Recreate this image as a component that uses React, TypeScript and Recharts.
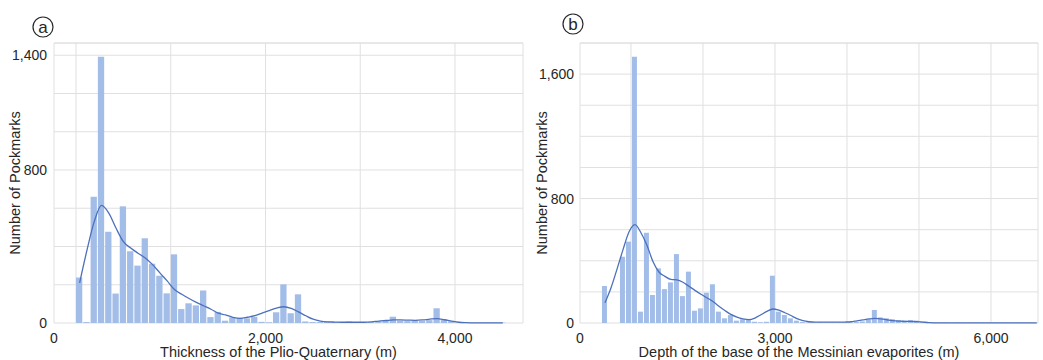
import {
  ComposedChart,
  Bar,
  Line,
  XAxis,
  YAxis,
  CartesianGrid,
  ReferenceLine,
  Label,
} from "recharts";

const FONT = "'Liberation Sans', Arial, Helvetica, sans-serif";
const GRID = "#e0e0e0";
const BAR = "#a3bde9";
const LINE = "#4d70bb";
const INK = "#262626";

// (a) thickness of the Plio-Quaternary, 77 m bins starting at 0 m
const BIN_START_A = 0;
const BIN_WIDTH_A = 77;
const COUNTS_A = [
  238, 5, 660, 1392, 477, 154, 610, 375, 300, 443, 310, 247, 155, 359, 73, 103,
  92, 170, 31, 58, 12, 30, 27, 24, 33, 6, 4, 56, 202, 51, 150, 8, 5, 5, 7, 5, 4,
  8, 5, 4, 5, 9, 14, 33, 12, 10, 14, 11, 15, 77, 18, 9, 4, 3, 2, 2, 2, 2, 2,
];
const KDE_A = [
  210, 380, 530, 615, 575, 495, 425, 392, 365, 340, 305, 262, 220, 175, 150,
  128, 108, 90, 72, 52, 42, 30, 24, 30, 38, 52, 65, 78, 85, 76, 58, 38, 20, 10,
  6, 5, 4, 4, 4, 4, 6, 10, 13, 16, 16, 15, 14, 16, 20, 23, 17, 10, 4, 2, 1, 1, 1,
  1, 1,
];
const X_DOMAIN_A: [number, number] = [-232, 4718];
const X_TICKS_A = [0, 1000, 2000, 3000, 4000];
const X_LABELS_A = [0, 2000, 4000];
const Y_DOMAIN_A: [number, number] = [0, 1464];
const Y_TICKS_A = [0, 200, 400, 600, 800, 1000, 1200, 1400];
const Y_LABELS_A = [0, 800, 1400];

// (b) depth of the base of the Messinian evaporites, 83.3 m bins from 597 m
const BIN_START_B = 597;
const BIN_WIDTH_B = 83.3;
const COUNTS_B = [
  238, 0, 0, 426, 523, 1711, 73, 580, 180, 351, 218, 261, 443, 173, 330, 79, 94,
  195, 249, 73, 30, 51, 15, 24, 22, 8, 5, 8, 304, 73, 51, 30, 15, 6, 4, 3, 3, 2,
  3, 2, 3, 4, 6, 10, 24, 84, 36, 30, 24, 19, 15, 19, 15, 8, 4, 3, 2, 2, 1, 2, 1,
  1, 2, 1, 1, 1, 1, 1, 1, 1, 1, 1, 1,
];
const KDE_B = [
  130, 225, 345, 470, 585, 632, 580, 500, 395, 328, 300, 280, 277, 262, 236,
  210, 185, 162, 138, 108, 80, 55, 38, 27, 22, 32, 53, 75, 90, 82, 66, 48, 28,
  15, 8, 5, 5, 5, 5, 5, 6, 8, 14, 20, 26, 30, 27, 21, 15, 12, 11, 10, 9, 6, 3, 1,
  1, 1, 1, 1, 1, 1, 1, 1, 1, 1, 1, 1, 1, 1, 1, 1, 1,
];
const X_DOMAIN_B: [number, number] = [292, 6653];
const X_TICKS_B = [1000, 2000, 3000, 4000, 5000, 6000];
const X_LABELS_B = [0, 3000, 6000];
const Y_DOMAIN_B: [number, number] = [0, 1800];
const Y_TICKS_B = [0, 200, 400, 600, 800, 1000, 1200, 1400, 1600, 1800];
const Y_LABELS_B = [0, 800, 1600];

const Y_TITLE = "Number of Pockmarks";
const X_TITLE_A = "Thickness of the Plio-Quaternary (m)";
const X_TITLE_B = "Depth of the base of the Messinian evaporites (m)";

const fmt = (v: number) => v.toLocaleString("en-US");

// the "0" label sits on the left edge of the plot, as in the source figure
function xTick(labels: number[], zeroX: number) {
  return (props: any) => {
    const { x, y, payload, index } = props;
    const v = payload.value as number;
    const style = { fontSize: 14, fill: INK };
    return (
      <g>
        {index === 0 && labels.includes(0) && (
          <text x={zeroX} y={y} dy="0.71em" textAnchor="middle" style={style}>
            0
          </text>
        )}
        {v !== 0 && labels.includes(v) && (
          <text x={x} y={y} dy="0.71em" textAnchor="middle" style={style}>
            {fmt(v)}
          </text>
        )}
      </g>
    );
  };
}

interface PanelProps {
  width: number;
  marginRight: number;
  yAxisWidth: number;
  yTickGap: number;
  yTitleX: number;
  yTitleShift: number;
  binStart: number;
  binWidth: number;
  barSize: number;
  counts: number[];
  kde: number[];
  xDomain: [number, number];
  xTicks: number[];
  xLabels: number[];
  yDomain: [number, number];
  yTicks: number[];
  yLabels: number[];
  xTitle: string;
}

function Histogram(p: PanelProps) {
  const rows = p.counts.map((count, i) => ({
    x: p.binStart + p.binWidth * (i + 0.5),
    count,
    kde: p.kde[i],
  }));

  return (
    <ComposedChart
      width={p.width}
      height={360}
      data={rows}
      margin={{ top: 43, right: p.marginRight, bottom: 0, left: 0 }}
    >
      <CartesianGrid stroke={GRID} />
      <ReferenceLine y={p.yDomain[1]} stroke={GRID} />
      <XAxis
        type="number"
        dataKey="x"
        domain={p.xDomain}
        allowDataOverflow
        ticks={p.xTicks}
        interval={0}
        height={37}
        axisLine={false}
        tickLine={false}
        tickSize={6}
        tickMargin={4}
        tick={xTick(p.xLabels, p.yAxisWidth)}
      >
        <Label
          value={p.xTitle}
          position="insideBottom"
          offset={3}
          dx={-10}
          style={{ fontSize: 14.5, fill: INK }}
        />
      </XAxis>
      <YAxis
        type="number"
        domain={p.yDomain}
        ticks={p.yTicks}
        interval={0}
        width={p.yAxisWidth}
        axisLine={false}
        tickLine={false}
        tickSize={p.yTickGap}
        tickMargin={2}
        tick={{ fontSize: 14, fill: INK }}
        tickFormatter={(v: number) => (p.yLabels.includes(v) ? fmt(v) : "")}
      >
        <Label
          value={Y_TITLE}
          angle={-90}
          position="insideLeft"
          offset={p.yTitleX}
          dx={p.yTitleShift}
          style={{ fontSize: 14.5, fill: INK, textAnchor: "middle" }}
        />
      </YAxis>
      <Bar dataKey="count" fill={BAR} barSize={p.barSize} isAnimationActive={false} />
      <Line
        dataKey="kde"
        type="monotone"
        stroke={LINE}
        strokeWidth={1.3}
        dot={false}
        activeDot={false}
        isAnimationActive={false}
      />
    </ComposedChart>
  );
}

function PanelTag({ x, y, letter }: { x: number; y: number; letter: string }) {
  return (
    <g>
      <circle cx={x} cy={y} r={10} fill="none" stroke={INK} strokeWidth={1.2} />
      <text x={x} y={y} dy="0.36em" textAnchor="middle" style={{ fontSize: 17, fill: INK }}>
        {letter}
      </text>
    </g>
  );
}

export default function App() {
  return (
    <div
      style={{
        position: "absolute",
        left: 0,
        top: 0,
        width: 1043,
        height: 360,
        background: "#fff",
        fontFamily: FONT,
      }}
    >
      <div style={{ position: "absolute", left: 0, top: 0 }}>
        <Histogram
          width={530}
          marginRight={7}
          yAxisWidth={54}
          yTickGap={5}
          yTitleX={10}
          yTitleShift={5}
          binStart={BIN_START_A}
          binWidth={BIN_WIDTH_A}
          barSize={6.3}
          counts={COUNTS_A}
          kde={KDE_A}
          xDomain={X_DOMAIN_A}
          xTicks={X_TICKS_A}
          xLabels={X_LABELS_A}
          yDomain={Y_DOMAIN_A}
          yTicks={Y_TICKS_A}
          yLabels={Y_LABELS_A}
          xTitle={X_TITLE_A}
        />
      </div>
      <div style={{ position: "absolute", left: 530, top: 0 }}>
        <Histogram
          width={513}
          marginRight={5}
          yAxisWidth={50}
          yTickGap={4}
          yTitleX={12}
          yTitleShift={0}
          binStart={BIN_START_B}
          binWidth={BIN_WIDTH_B}
          barSize={5}
          counts={COUNTS_B}
          kde={KDE_B}
          xDomain={X_DOMAIN_B}
          xTicks={X_TICKS_B}
          xLabels={X_LABELS_B}
          yDomain={Y_DOMAIN_B}
          yTicks={Y_TICKS_B}
          yLabels={Y_LABELS_B}
          xTitle={X_TITLE_B}
        />
      </div>
      <svg
        width={1043}
        height={60}
        style={{ position: "absolute", left: 0, top: 0, pointerEvents: "none" }}
      >
        <PanelTag x={43} y={27} letter="a" />
        <PanelTag x={573} y={24} letter="b" />
      </svg>
    </div>
  );
}
